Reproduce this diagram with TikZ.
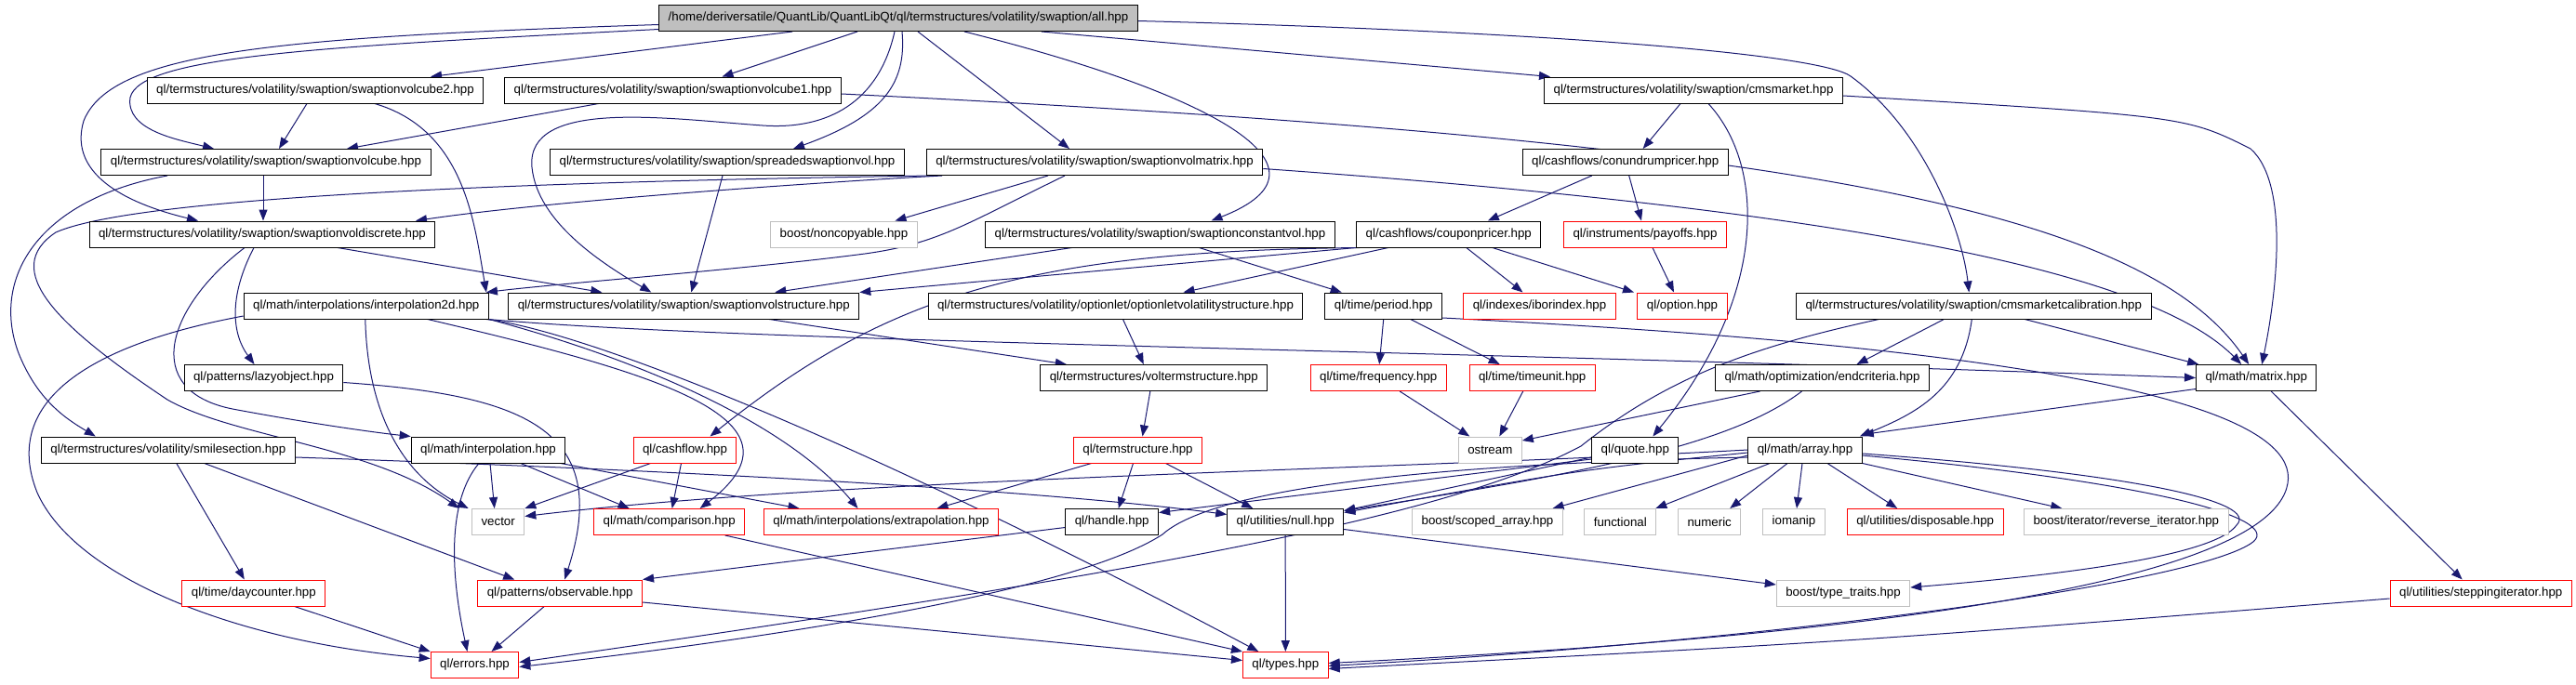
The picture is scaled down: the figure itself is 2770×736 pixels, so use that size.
\documentclass[tikz,border=0pt]{standalone}
\usepackage{fontspec}
\setmainfont{Liberation Sans}
\usepackage{xcolor}
\usepackage{tikz}
\usetikzlibrary{arrows.meta, backgrounds}
\definecolor{edgeblue}{HTML}{191970}
\definecolor{boxgray}{HTML}{BFBFBF}
\tikzset{
  hdr/.style={rectangle, draw=black, line width=1pt, fill=white,
              inner xsep=10pt, inner ysep=0pt, minimum height=28pt},
  redhdr/.style={hdr, draw=red},
  syshdr/.style={hdr, draw=boxgray},
  roothdr/.style={hdr, fill=boxgray},
  inc/.style={draw=edgeblue, line width=1pt, -{Triangle[length=12pt,width=9pt]}},
}
\begin{document}
\begin{tikzpicture}[x=1pt, y=-1pt, font=\fontsize{13.3}{16}\selectfont]
    \useasboundingbox (0,0) rectangle (2770,736);
    \node[roothdr] (root) at (966,19.5) {/home/deriversatile/QuantLib/QuantLibQt/ql/termstructures/volatility/swaption/all.hpp};
    \node[hdr] (cubeb) at (339,97) {ql/termstructures/volatility/swaption/swaptionvolcube2.hpp};
    \node[hdr] (cubea) at (723.5,97) {ql/termstructures/volatility/swaption/swaptionvolcube1.hpp};
    \node[hdr] (cmsmkt) at (1821,97) {ql/termstructures/volatility/swaption/cmsmarket.hpp};
    \node[hdr] (cube) at (286,174.5) {ql/termstructures/volatility/swaption/swaptionvolcube.hpp};
    \node[hdr] (spread) at (782,174.5) {ql/termstructures/volatility/swaption/spreadedswaptionvol.hpp};
    \node[hdr] (volmat) at (1177,174.5) {ql/termstructures/volatility/swaption/swaptionvolmatrix.hpp};
    \node[hdr] (conund) at (1747.7,174.5) {ql/cashflows/conundrumpricer.hpp};
    \node[hdr] (voldisc) at (282,252) {ql/termstructures/volatility/swaption/swaptionvoldiscrete.hpp};
    \node[syshdr] (noncopy) at (907.5,252) {boost/noncopyable.hpp};
    \node[hdr] (constvol) at (1247.5,252) {ql/termstructures/volatility/swaption/swaptionconstantvol.hpp};
    \node[hdr] (coupon) at (1557.8,252) {ql/cashflows/couponpricer.hpp};
    \node[redhdr] (payoffs) at (1769,252) {ql/instruments/payoffs.hpp};
    \node[hdr] (interp2d) at (393.8,329) {ql/math/interpolations/interpolation2d.hpp};
    \node[hdr] (volstruct) at (735.3,329) {ql/termstructures/volatility/swaption/swaptionvolstructure.hpp};
    \node[hdr] (optionlet) at (1199.5,329) {ql/termstructures/volatility/optionlet/optionletvolatilitystructure.hpp};
    \node[hdr] (period) at (1487.7,329) {ql/time/period.hpp};
    \node[redhdr] (ibor) at (1655.5,329) {ql/indexes/iborindex.hpp};
    \node[redhdr] (option) at (1809,329) {ql/option.hpp};
    \node[hdr] (cmscal) at (2122.3,329) {ql/termstructures/volatility/swaption/cmsmarketcalibration.hpp};
    \node[hdr] (lazy) at (283.5,406.5) {ql/patterns/lazyobject.hpp};
    \node[hdr] (volterm) at (1240.8,406.5) {ql/termstructures/voltermstructure.hpp};
    \node[redhdr] (freq) at (1482.2,406.5) {ql/time/frequency.hpp};
    \node[redhdr] (timeunit) at (1647.7,406.5) {ql/time/timeunit.hpp};
    \node[hdr] (endcrit) at (1959.5,406.5) {ql/math/optimization/endcriteria.hpp};
    \node[hdr] (matrix) at (2426.2,406.5) {ql/math/matrix.hpp};
    \node[hdr] (smile) at (180.8,484) {ql/termstructures/volatility/smilesection.hpp};
    \node[hdr] (interp) at (525,484) {ql/math/interpolation.hpp};
    \node[redhdr] (cashflow) at (736.5,484) {ql/cashflow.hpp};
    \node[redhdr] (termstr) at (1223.5,484) {ql/termstructure.hpp};
    \node[syshdr] (ostream) at (1602.3,484) {ostream};
    \node[hdr] (quote) at (1758.3,484) {ql/quote.hpp};
    \node[hdr] (array) at (1941,484) {ql/math/array.hpp};
    \node[syshdr] (vector) at (535.7,561.5) {vector};
    \node[redhdr] (compar) at (719.7,561.5) {ql/math/comparison.hpp};
    \node[redhdr] (extrap) at (947.5,561.5) {ql/math/interpolations/extrapolation.hpp};
    \node[hdr] (handle) at (1195.7,561.5) {ql/handle.hpp};
    \node[hdr] (null) at (1382.2,561.5) {ql/utilities/null.hpp};
    \node[syshdr] (scoped) at (1599.5,561.5) {boost/scoped\_array.hpp};
    \node[syshdr] (functional) at (1742.3,561.5) {functional};
    \node[syshdr] (numeric) at (1838.2,561.5) {numeric};
    \node[syshdr] (iomanip) at (1929,561.5) {iomanip};
    \node[redhdr] (dispos) at (2070.2,561.5) {ql/utilities/disposable.hpp};
    \node[syshdr] (reviter) at (2286.3,561.5) {boost/iterator/reverse\_iterator.hpp};
    \node[redhdr] (daycount) at (272.8,638) {ql/time/daycounter.hpp};
    \node[redhdr] (observ) at (602.2,638) {ql/patterns/observable.hpp};
    \node[syshdr] (typetr) at (1982,638) {boost/type\_traits.hpp};
    \node[redhdr] (stepit) at (2667.7,638) {ql/utilities/steppingiterator.hpp};
    \node[redhdr] (errors) at (510.5,715.5) {ql/errors.hpp};
    \node[redhdr] (types) at (1382.3,715.5) {ql/types.hpp};
    \begin{scope}[on background layer]
    \draw[inc] ([xshift=-114]root.south) -- ([xshift=124]cubeb.north);
    \draw[inc] ([xshift=-44]root.south) -- ([xshift=53]cubea.north);
    \draw[inc] ([xshift=154]root.south) -- ([xshift=-154]cmsmkt.north);
    \draw[inc] ([yshift=-12]root.west) .. controls (350,50) and (150,60) .. (140,105) .. controls (135,140) and (190,150) .. ([xshift=-56]cube.north);
    \draw[inc] ([yshift=-7]root.west) .. controls (300,40) and (120,55) .. (90,130) .. controls (75,180) and (120,215) .. ([xshift=-69]voldisc.north);
    \draw[inc] ([xshift=4]root.south) .. controls (975,90) and (950,125) .. ([xshift=71]spread.north);
    \draw[inc] ([xshift=-4]root.south) .. controls (945,110) and (890,140) .. (820,135) .. controls (720,128) and (565,105) .. (572,180) .. controls (578,240) and (650,285) .. ([xshift=-35]volstruct.north);
    \draw[inc] ([xshift=21]root.south) -- ([xshift=-27]volmat.north);
    \draw[inc] ([xshift=71]root.south) .. controls (1300,100) and (1450,180) .. ([xshift=55]constvol.north);
    \draw[inc] ([yshift=-3]root.east) .. controls (1700,35) and (1960,60) .. (1990,82) .. controls (2070,140) and (2110,250) .. ([xshift=-5]cmscal.north);
    \draw[inc] ([xshift=-9]cubeb.south) -- ([xshift=14]cube.north);
    \draw[inc] ([xshift=64]cubeb.south) .. controls (500,140) and (510,240) .. ([xshift=-3]interp2d.north east);
    \draw[inc] ([xshift=-80]cubea.south) -- ([xshift=87]cube.north);
    \draw[inc] ([yshift=-4]cubea.east) .. controls (1900,150) and (2300,220) .. ([xshift=-8]matrix.north);
    \draw[inc] ([xshift=-14]cmsmkt.south) -- ([xshift=19]conund.north);
    \draw[inc] ([xshift=16]cmsmkt.south) .. controls (1900,180) and (1900,320) .. ([xshift=19]quote.north);
    \draw[inc] ([yshift=-6]cmsmkt.east) .. controls (2350,125) .. (2420,160) .. controls (2465,200) and (2445,330) .. ([xshift=6]matrix.north);
    \draw[inc] ([xshift=-3]cube.south) -- ([xshift=1]voldisc.north);
    \draw[inc] ([xshift=-106]cube.south) .. controls (40,215) and (-10,300) .. (20,380) .. controls (40,430) and (70,450) .. ([xshift=-78]smile.north);
    \draw[inc] ([xshift=-5]spread.south) -- ([xshift=8]volstruct.north);
    \draw[inc] ([xshift=-164]volmat.south) .. controls (900,195) and (600,215) .. ([xshift=165]voldisc.north);
    \draw[inc] ([xshift=-175]volmat.south) .. controls (600,195) and (150,210) .. (60,250) .. controls (0,290) and (60,350) .. (180,430) .. controls (250,470) and (400,480) .. ([xshift=-42]vector.north);
    \draw[inc] ([xshift=-50]volmat.south) -- ([xshift=55]noncopy.north);
    \draw[inc] ([xshift=-32]volmat.south) .. controls (1040,240) and (1010,262) .. (930,273) .. controls (800,290) and (600,305) .. ([xshift=-3]interp2d.north east);
    \draw[inc] ([yshift=-7]volmat.east) .. controls (1900,220) and (2300,280) .. ([xshift=-16]matrix.north);
    \draw[inc] ([xshift=-36]conund.south) -- ([xshift=42]coupon.north);
    \draw[inc] ([xshift=4]conund.south) -- ([xshift=-4]payoffs.north);
    \draw[inc] ([xshift=81]voldisc.south) -- ([xshift=-88]volstruct.north);
    \draw[inc] ([xshift=-19]voldisc.south) .. controls (180,330) and (150,420) .. (250,440) .. controls (330,455) and (400,465) .. (interp.north west);
    \draw[inc] ([xshift=-9]voldisc.south) .. controls (245,320) and (250,360) .. ([xshift=-10]lazy.north);
    \draw[inc] ([xshift=-95]constvol.south) -- ([xshift=98]volstruct.north);
    \draw[inc] ([xshift=42]constvol.south) -- ([xshift=-45]period.north);
    \draw[inc] (coupon.south west) -- (volstruct.north east);
    \draw[inc] ([xshift=-65]coupon.south) -- ([xshift=73]optionlet.north);
    \draw[inc] ([xshift=4]coupon.south west) .. controls (1100,270) and (950,320) .. ([xshift=27]cashflow.north);
    \draw[inc] ([xshift=19]coupon.south) -- ([xshift=-18]ibor.north);
    \draw[inc] ([xshift=47]coupon.south) -- ([xshift=-52]option.north);
    \draw[inc] ([xshift=8]payoffs.south) -- ([xshift=-9]option.north);
    \draw[inc] ([xshift=-1]interp2d.south) .. controls (395,440) and (430,510) .. ([xshift=-32]vector.north);
    \draw[inc] ([yshift=-11]interp2d.west) .. controls (100,370) and (0,430) .. (40,530) .. controls (80,620) and (250,690) .. ([yshift=7]errors.west);
    \draw[inc] ([xshift=66]interp2d.south) .. controls (700,400) and (880,450) .. ([xshift=33]compar.north);
    \draw[inc] (interp2d.south east) .. controls (700,390) and (850,460) .. ([xshift=-25]extrap.north);
    \draw[inc] ([xshift=-3]interp2d.south east) .. controls (620,355) and (900,460) .. ([xshift=-29]types.north);
    \draw[inc] ([xshift=-1]interp2d.south east) .. controls (800,368) and (1500,375) .. (matrix.west);
    \draw[inc] ([xshift=92]volstruct.south) -- ([xshift=-94]volterm.north);
    \draw[inc] ([xshift=8]optionlet.south) -- ([xshift=-11]volterm.north);
    \draw[inc] (period.south) -- ([xshift=1]freq.north);
    \draw[inc] ([xshift=29]period.south) -- ([xshift=-35]timeunit.north);
    \draw[inc] ([yshift=-13]period.east) .. controls (1900,360) and (2480,400) .. (2460,520) .. controls (2440,640) and (1900,690) .. ([yshift=2]types.east);
    \draw[inc] ([xshift=55]cmscal.south) -- ([xshift=-62]matrix.north);
    \draw[inc] ([xshift=-32]cmscal.south) -- ([xshift=37]endcrit.north);
    \draw[inc] ([xshift=-2]cmscal.south) .. controls (2110,420) and (2060,445) .. ([xshift=-3]array.north east);
    \draw[inc] ([xshift=-102]cmscal.south) .. controls (1900,370) and (1800,400) .. (1700,480) .. controls (1550,560) and (1200,620) .. ([yshift=3]errors.east);
    \draw[inc] ([yshift=-12]matrix.west) -- ([yshift=2]array.north east);
    \draw[inc] ([xshift=16]matrix.south) -- ([xshift=-20]stepit.north);
    \draw[inc] ([yshift=-5]lazy.east) .. controls (560,425) and (660,460) .. ([xshift=5]observ.north);
    \draw[inc] ([xshift=-4]volterm.south) -- ([xshift=5]termstr.north);
    \draw[inc] ([xshift=23]freq.south) -- ([xshift=-22]ostream.north);
    \draw[inc] ([xshift=-10]timeunit.south) -- ([xshift=10]ostream.north);
    \draw[inc] ([xshift=-67]endcrit.south) -- ([yshift=10]ostream.east);
    \draw[inc] ([xshift=-22]endcrit.south) .. controls (1860,480) and (1700,510) .. ([yshift=12]null.east);
    \draw[inc] ([xshift=9]smile.south) -- ([xshift=-10]daycount.north);
    \draw[inc] ([xshift=39]smile.south) -- ([xshift=-49]observ.north);
    \draw[inc] ([yshift=-8]smile.east) .. controls (700,505) and (1100,525) .. ([yshift=8]null.west);
    \draw[inc] ([xshift=2]interp.south) -- ([xshift=-4]vector.north);
    \draw[inc] ([xshift=35]interp.south) -- ([xshift=-43]compar.north);
    \draw[inc] ([xshift=78]interp.south) -- ([xshift=-88]extrap.north);
    \draw[inc] ([xshift=-10]interp.south) .. controls (480,540) and (485,620) .. ([xshift=-8]errors.north);
    \draw[inc] ([xshift=-37]cashflow.south) -- (vector.north east);
    \draw[inc] ([xshift=-4]cashflow.south) -- ([xshift=3]compar.north);
    \draw[inc] ([xshift=-50]termstr.south) -- ([xshift=60]extrap.north);
    \draw[inc] ([xshift=-5]termstr.south) -- ([xshift=7]handle.north);
    \draw[inc] ([xshift=30]termstr.south) -- ([xshift=-35]null.north);
    \draw[inc] ([yshift=-10]quote.west) -- ([yshift=10]handle.east);
    \draw[inc] ([yshift=-8]quote.west) -- ([yshift=12]null.east);
    \draw[inc] (array.west) .. controls (1500,505) and (900,515) .. ([yshift=6]vector.east);
    \draw[inc] ([yshift=-3]array.west) .. controls (1700,505) .. ([yshift=10]null.east);
    \draw[inc] ([yshift=-6]array.west) -- ([xshift=70]scoped.north);
    \draw[inc] ([xshift=-38]array.south) -- ([xshift=38]functional.north);
    \draw[inc] ([xshift=-19]array.south) -- ([xshift=22]numeric.north);
    \draw[inc] ([xshift=-3]array.south) -- ([xshift=3]iomanip.north);
    \draw[inc] ([xshift=24]array.south) -- ([xshift=-30]dispos.north);
    \draw[inc] (array.south east) -- ([xshift=-69]reviter.north);
    \draw[inc] ([yshift=-4]array.east) .. controls (2300,510) and (2430,540) .. (2405,565) .. controls (2380,600) and (2200,620) .. ([yshift=6]typetr.east);
    \draw[inc] ([yshift=-6]array.east) .. controls (2330,520) and (2460,560) .. (2420,585) .. controls (2350,630) and (1900,690) .. ([yshift=-1]types.east);
    \draw[inc] ([yshift=-8]array.west) .. controls (1500,500) and (1300,530) .. (1250,575) .. controls (1150,640) and (800,690) .. ([yshift=-2]errors.east);
    \draw[inc] (null.south) -- (types.north);
    \draw[inc] ([yshift=-8]null.east) -- ([yshift=9]typetr.west);
    \draw[inc] ([yshift=-6]handle.west) -- (observ.north east);
    \draw[inc] ([xshift=60]compar.south) -- (types.north west);
    \draw[inc] ([xshift=-17]observ.south) -- ([xshift=18]errors.north);
    \draw[inc] ([yshift=-10]observ.east) -- ([yshift=5]types.west);
    \draw[inc] ([xshift=44]daycount.south) -- (errors.north west);
    \draw[inc] ([yshift=-6]stepit.west) .. controls (2000,690) .. ([yshift=-4]types.east);
    \end{scope}
\end{tikzpicture}
\end{document}
